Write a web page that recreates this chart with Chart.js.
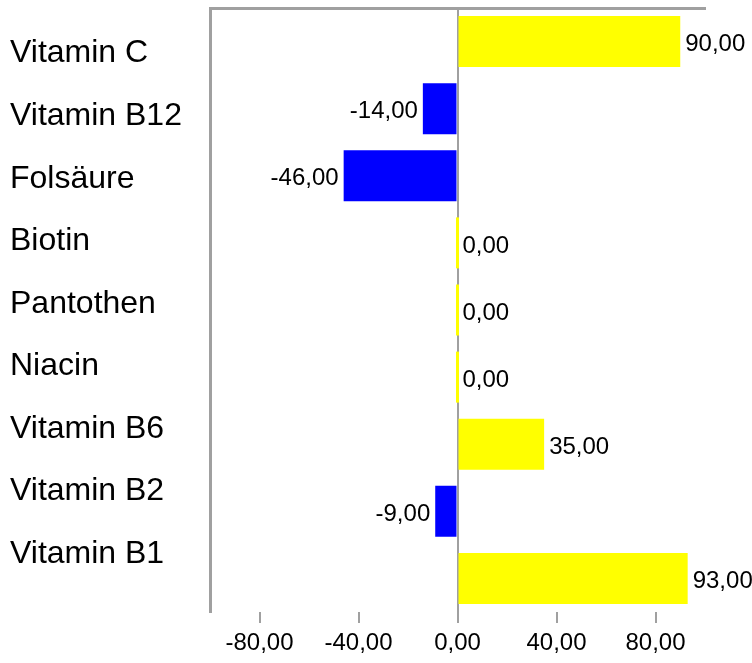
<!DOCTYPE html>
<html>
<head>
<meta charset="utf-8">
<script src="https://cdn.jsdelivr.net/npm/chart.js@4/dist/chart.umd.min.js"></script>
<style>
    html, body { margin: 0; padding: 0; background: #ffffff; }
    #wrap { width: 752px; height: 663px; position: relative; }
</style>
</head>
<body>
<div id="wrap"><canvas id="mainChart"></canvas></div>
<script>
// Vitamin balance chart

const categories = ['Vitamin C', 'Vitamin B12', 'Folsäure', 'Biotin', 'Pantothen', 'Niacin', 'Vitamin B6', 'Vitamin B2', 'Vitamin B1'];
const values = [90, -14, -46, 0, 0, 0, 35, -9, 93];
const xTicks = [-80, -40, 0, 40, 80];

const GRAY = '#a0a0a0';
const POS_COLOR = '#ffff00';
const NEG_COLOR = '#0000ff';
const FONT = "'Liberation Sans', Arial, sans-serif";

function formatNum(v) {
    return Number(v).toFixed(2).replace('.', ',');
}

// no extra room for half labels at the axis ends
function noPadding(scale) {
    scale.paddingTop = 0;
    scale.paddingBottom = 0;
    scale.paddingLeft = 0;
    scale.paddingRight = 0;
}

// Draw value labels next to each bar
const valueLabels = {
    id: 'valueLabels',
    afterDatasetsDraw(chart) {
        const ctx = chart.ctx;
        const xScale = chart.scales.x;
        const meta = chart.getDatasetMeta(0);
        ctx.save();
        ctx.font = '24px ' + FONT;
        ctx.fillStyle = '#000000';
        ctx.textBaseline = 'middle';
        meta.data.forEach((bar, i) => {
            const v = values[i];
            const px = xScale.getPixelForValue(v);
            if (v < 0) {
                ctx.textAlign = 'right';
                ctx.fillText(formatNum(v), px - 5, bar.y + 3);
            } else {
                ctx.textAlign = 'left';
                ctx.fillText(formatNum(v), px + 5, bar.y + 3);
            }
        });
        ctx.restore();
    }
};

function initializeChart() {
    const ctx = document.getElementById('mainChart');

    const data = {
        labels: categories,
        datasets: [{
            data: values,
            backgroundColor: values.map(v => v < 0 ? NEG_COLOR : POS_COLOR),
            borderWidth: 0,
            barPercentage: 0.76,
            categoryPercentage: 1,
            minBarLength: 3,
            xAxisID: 'x',
            yAxisID: 'y'
        }]
    };

    const config = {
        type: 'bar',
        data: data,
        plugins: [valueLabels],
        options: {
            indexAxis: 'y',
            responsive: true,
            maintainAspectRatio: false,
            animation: false,
            layout: {
                padding: { top: 8, left: 10, right: 47, bottom: 0 }
            },
            plugins: {
                legend: { display: false },
                tooltip: { enabled: false }
            },
            scales: {
                x: {
                    type: 'linear',
                    position: 'bottom',
                    min: -100,
                    max: 100,
                    afterBuildTicks: scale => {
                        scale.ticks = xTicks.map(v => ({ value: v }));
                    },
                    afterFit: scale => { scale.height = 51; noPadding(scale); },
                    border: { display: false },
                    grid: {
                        color: c => (c.tick && c.tick.value === 0) ? GRAY : 'rgba(0,0,0,0)',
                        tickColor: GRAY,
                        lineWidth: 2,
                        tickWidth: 2,
                        tickLength: 11
                    },
                    ticks: {
                        color: '#000000',
                        font: { family: FONT, size: 24 },
                        padding: 6,
                        autoSkip: false,
                        maxRotation: 0,
                        callback: v => formatNum(v)
                    }
                },
                x2: {
                    type: 'linear',
                    position: 'top',
                    afterFit: scale => { scale.height = 0; noPadding(scale); },
                    grid: { display: false },
                    ticks: { display: false },
                    border: { display: true, color: GRAY, width: 3 }
                },
                y: {
                    type: 'category',
                    display: false,
                    offset: true
                },
                y2: {
                    type: 'linear',
                    position: 'left',
                    reverse: true,
                    offset: false,
                    min: -0.73,
                    max: 8.93,
                    afterBuildTicks: scale => {
                        scale.ticks = categories.map((c, i) => ({ value: i }));
                    },
                    afterFit: scale => { scale.width = 200; noPadding(scale); },
                    grid: { display: false, offset: false },
                    border: { display: true, color: GRAY, width: 3 },
                    ticks: {
                        color: '#000000',
                        font: { family: FONT, size: 32 },
                        crossAlign: 'far',
                        autoSkip: false,
                        callback: v => categories[v]
                    }
                }
            }
        }
    };

    new Chart(ctx, config);
}

initializeChart();
</script>
</body>
</html>
